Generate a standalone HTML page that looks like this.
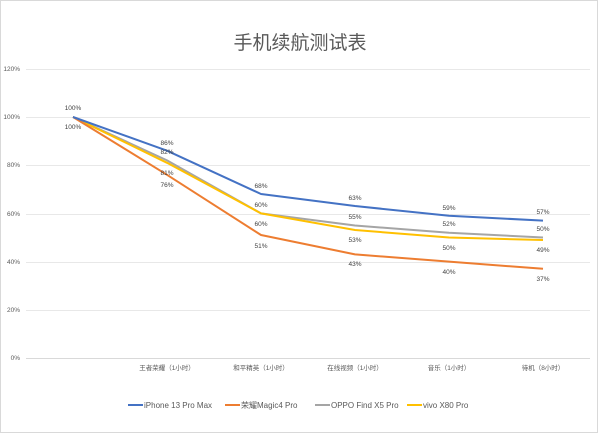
<!DOCTYPE html>
<html><head><meta charset="utf-8"><style>
body{margin:0;background:#fff}
svg{display:block;font-family:"Liberation Sans","Noto Sans CJK SC",sans-serif}
</style></head><body>
<svg width="600" height="434" viewBox="0 0 600 434">
<rect x="0.5" y="0.5" width="597" height="432" fill="#fff" stroke="#d9d9d9"/>
<text x="300" y="49" text-anchor="middle" font-size="19" fill="#595959">手机续航测试表</text>
<g stroke="#e8e8e8" stroke-width="1">
<line x1="26" x2="590" y1="69.5" y2="69.5"/><line x1="26" x2="590" y1="117.5" y2="117.5"/>
<line x1="26" x2="590" y1="165.5" y2="165.5"/><line x1="26" x2="590" y1="214.5" y2="214.5"/>
<line x1="26" x2="590" y1="262.5" y2="262.5"/><line x1="26" x2="590" y1="310.5" y2="310.5"/>
<line x1="26" x2="590" y1="358.5" y2="358.5" stroke="#d9d9d9"/>
</g>
<g font-size="6.5" fill="#595959" text-anchor="end">
<text x="20" y="71">120%</text><text x="20" y="119">100%</text><text x="20" y="167">80%</text>
<text x="20" y="216">60%</text><text x="20" y="264">40%</text><text x="20" y="312">20%</text><text x="20" y="360">0%</text>
</g>
<g font-size="6.5" fill="#595959" text-anchor="middle">
<text x="167" y="370">王者荣耀（1小时）</text><text x="261" y="370">和平精英（1小时）</text>
<text x="355" y="370">在线视频（1小时）</text><text x="449" y="370">音乐（1小时）</text><text x="543" y="370">待机（8小时）</text>
</g>
<g fill="none" stroke-width="2" stroke-linejoin="round">
<polyline stroke="#a5a5a5" points="73,117 167,160.4 261,213.4 355,225.5 449,232.7 543,237.5"/>
<polyline stroke="#ffc000" points="73,117 167,162.8 261,213.4 355,230 449,237.5 543,240"/>
<polyline stroke="#ed7d31" points="73,117 167,174.8 261,235 355,254.4 449,261.6 543,268.8"/>
<polyline stroke="#4472c4" points="73,117 167,150.7 261,194 355,206 449,215.8 543,220.6"/>
</g>
<g font-size="6.5" fill="#404040" text-anchor="middle">
<text x="73" y="110">100%</text><text x="73" y="129">100%</text>
<text x="167" y="145">86%</text><text x="167" y="154">82%</text><text x="167" y="175">81%</text><text x="167" y="187">76%</text>
<text x="261" y="188">68%</text><text x="261" y="207">60%</text><text x="261" y="226">60%</text><text x="261" y="248">51%</text>
<text x="355" y="200">63%</text><text x="355" y="219">55%</text><text x="355" y="242">53%</text><text x="355" y="266">43%</text>
<text x="449" y="210">59%</text><text x="449" y="226">52%</text><text x="449" y="250">50%</text><text x="449" y="274">40%</text>
<text x="543" y="214">57%</text><text x="543" y="231">50%</text><text x="543" y="252">49%</text><text x="543" y="281">37%</text>
</g>
<g font-size="8" fill="#595959">
<line x1="128" x2="143" y1="405" y2="405" stroke="#4472c4" stroke-width="2"/><text x="144" y="408">iPhone 13 Pro Max</text>
<line x1="225" x2="240" y1="405" y2="405" stroke="#ed7d31" stroke-width="2"/><text x="241" y="408">荣耀Magic4  Pro</text>
<line x1="315" x2="330" y1="405" y2="405" stroke="#a5a5a5" stroke-width="2"/><text x="331" y="408">OPPO Find X5 Pro</text>
<line x1="407" x2="422" y1="405" y2="405" stroke="#ffc000" stroke-width="2"/><text x="423" y="408">vivo  X80  Pro</text>
</g>
</svg>
</body></html>
